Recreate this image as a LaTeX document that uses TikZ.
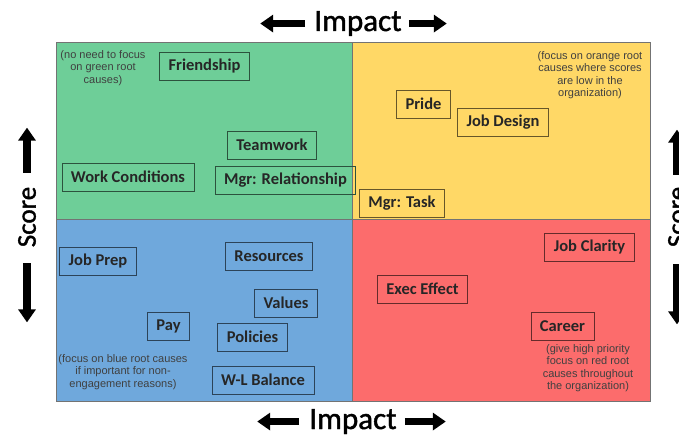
\documentclass[tikz,border=0pt]{standalone}
\usepackage{fontspec}
\setmainfont{Carlito}
\newfontfamily\notefont{Liberation Sans}
\newfontfamily\axisfont[FakeBold=1.4]{Carlito}
\usetikzlibrary{arrows.meta}
\definecolor{qgreen}{RGB}{110,206,152}
\definecolor{qyellow}{RGB}{255,216,102}
\definecolor{qblue}{RGB}{111,168,220}
\definecolor{qred}{RGB}{252,108,108}
\begin{document}
\begin{tikzpicture}[x = 1pt, y = -1pt,
	quad/.style = {draw = black!55, line width = .8pt},
	cause/.style = {draw = #1!40!black, line width = .8pt, text = black!85, inner xsep = 9pt, minimum height = 28pt, font = \fontsize{16.5}{18}\selectfont\bfseries},
	note/.style = {align = center, text = black!75, inner sep = 0pt, font = \notefont\fontsize{11}{12.5}\selectfont},
	axislabel/.style = {inner sep = 0pt, font = \axisfont\fontsize{31}{36}\selectfont},
	scorelabel/.style = {inner sep = 0pt, rotate = 90, font = \axisfont\fontsize{27}{30}\selectfont},
	bigarrow/.style = {line width = 7.5pt, -{Triangle[width = 17pt, length = 13pt]}}]
				\useasboundingbox (0,0) rectangle (679,436);
				\clip (0,0) rectangle (679,436);
				\draw[quad, fill = qgreen] (56,42) rectangle (352,219); %low impact, high score
				\draw[quad, fill = qyellow] (352,42) rectangle (650,219); %high impact, high score
				\draw[quad, fill = qblue] (56,219) rectangle (352,401); %low impact, low score
				\draw[quad, fill = qred] (352,219) rectangle (650,401); %high impact, low score
				% axes
				\node[axislabel, anchor = base] (impT) at (358,31) {Impact};
				\draw[bigarrow] ([xshift = -9pt]impT.west) -- ++(-45,0);
				\draw[bigarrow] ([xshift = 7pt]impT.east) -- ++(38,0);
				\node[axislabel, anchor = base] (impB) at (353,429) {Impact};
				\draw[bigarrow] ([xshift = -10pt]impB.west) -- ++(-42,0);
				\draw[bigarrow] ([xshift = 8pt]impB.east) -- ++(41,0);
				\node[scorelabel] (scoreL) at (27,217) {Score};
				\draw[bigarrow] ([yshift = 14pt]scoreL.east) -- ++(0,-45);
				\draw[bigarrow] ([yshift = -16pt]scoreL.west) -- ++(0,59);
				\node[scorelabel] (scoreR) at (677,217) {Score};
				\draw[bigarrow] ([yshift = 12pt]scoreR.east) -- ++(0,-45);
				\draw[bigarrow] ([yshift = -17pt]scoreR.west) -- ++(0,60);
				% green
				\node[cause = qgreen] (friend) at (204.5,66) {Friendship};
				\node[cause = qgreen] (team) at (272,145) {Teamwork};
				\node[cause = qgreen] (work) at (128,177) {Work Conditions};
				\node[cause = qgreen] (mgrrel) at (285.5,180) {Mgr: Relationship};
				\node[note] (gnote) at (103,68) {(no need to focus\\on green root\\causes)};
				% yellow
				\node[cause = qyellow] (pride) at (423.5,104) {Pride};
				\node[cause = qyellow] (jobdes) at (503,122) {Job Design};
				\node[cause = qyellow] (mgrtask) at (402,203) {Mgr: Task};
				\node[note] (ynote) at (590,75) {(focus on orange root\\causes where scores\\are low in the\\organization)};
				% blue
				\node[cause = qblue] (jobprep) at (98,261) {Job Prep};
				\node[cause = qblue] (res) at (269,256) {Resources};
				\node[cause = qblue] (values) at (286,303) {Values};
				\node[cause = qblue] (pay) at (168.5,326) {Pay};
				\node[cause = qblue] (pol) at (252.5,337) {Policies};
				\node[cause = qblue] (wlb) at (263,380) {W-L Balance};
				\node[note] (bnote) at (123,372) {(focus on blue root causes\\if important for non-\\engagement reasons)};
				% red
				\node[cause = qred] (clarity) at (589.5,247) {Job Clarity};
				\node[cause = qred] (exec) at (422.5,289) {Exec Effect};
				\node[cause = qred] (career) at (562.5,326) {Career};
				\node[note] (rnote) at (588,368) {(give high priority\\focus on red root\\causes throughout\\the organization)};
			\end{tikzpicture}
\end{document}
